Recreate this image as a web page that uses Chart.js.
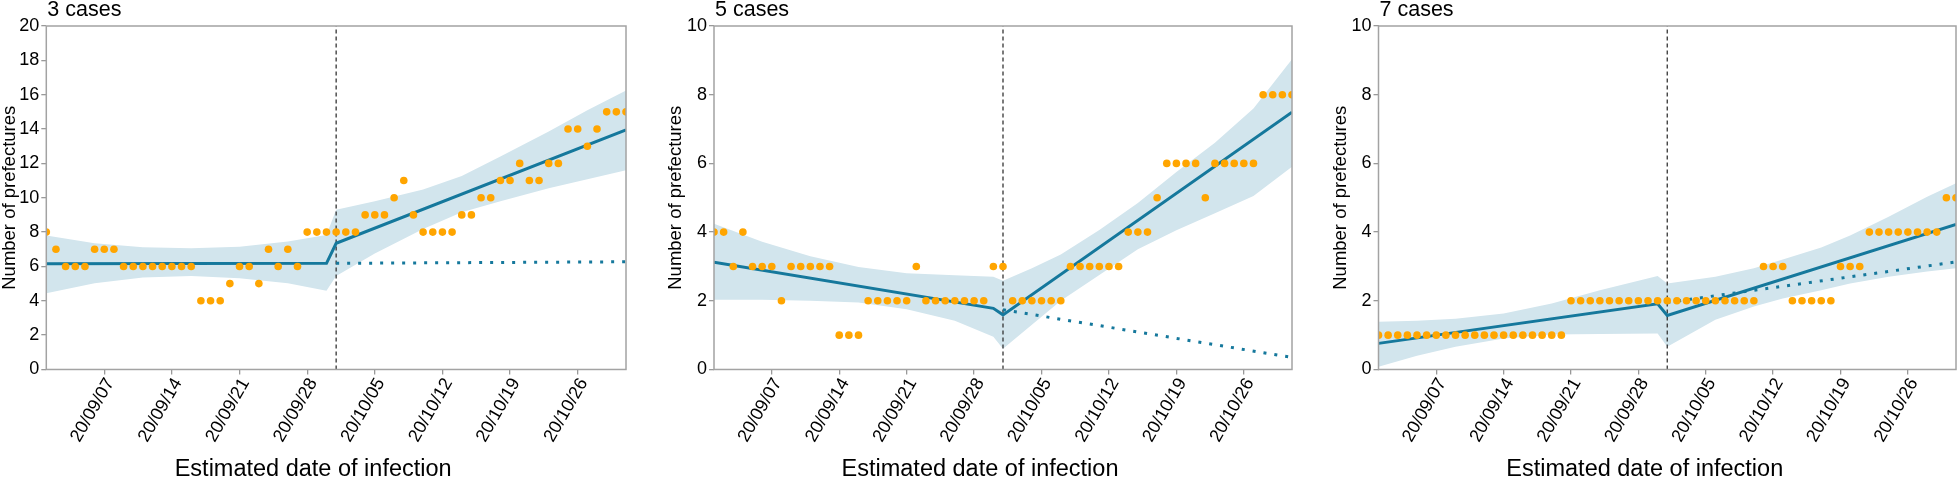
<!DOCTYPE html>
<html>
<head>
<meta charset="utf-8">
<script src="https://cdn.jsdelivr.net/npm/chart.js@4.4.1/dist/chart.umd.min.js"></script>
<style>
html, body { margin: 0; padding: 0; background: #fff; overflow: hidden; }
.panel { position: absolute; top: 0; height: 478px; }
</style>
</head>
<body>
<div class="panel" style="left:0;width:630px"><canvas id="p3"></canvas></div>
<div class="panel" style="left:666px;width:630px"><canvas id="p5"></canvas></div>
<div class="panel" style="left:1331px;width:629px"><canvas id="p7"></canvas></div>
<script>
// days counted from 2020/09/01 (day 0) to 2020/10/31 (day 60)
const tickDays = [6, 13, 20, 27, 34, 41, 48, 55];
const tickLabels = ['20/09/07', '20/09/14', '20/09/21', '20/09/28', '20/10/05', '20/10/12', '20/10/19', '20/10/26'];
const breakDay = 30;

// observed number of prefectures per day
const obs3 = [8,7,6,6,6,7,7,7,6,6,6,6,6,6,6,6,4,4,4,5,6,6,5,7,6,7,6,8,8,8,8,8,8,9,9,9,10,11,9,8,8,8,8,9,9,10,10,11,11,12,11,11,12,12,14,14,13,14,15,15,15];
const obs5 = [4,4,3,4,3,3,3,2,3,3,3,3,3,1,1,1,2,2,2,2,2,3,2,2,2,2,2,2,2,3,3,2,2,2,2,2,2,3,3,3,3,3,3,4,4,4,5,6,6,6,6,5,6,6,6,6,6,8,8,8,8];
const obs7 = [1,1,1,1,1,1,1,1,1,1,1,1,1,1,1,1,1,1,1,1,2,2,2,2,2,2,2,2,2,2,2,2,2,2,2,2,2,2,2,2,3,3,3,2,2,2,2,2,3,3,3,4,4,4,4,4,4,4,4,5,5];

// fitted segmented trend (before / after break) and counterfactual
const fitDays = [0, 29, 30, 60];
const fit3 = [6.15, 6.18, 7.35, 13.95];
const fit5 = [3.12, 1.78, 1.59, 7.49];
const fit7 = [0.76, 1.91, 1.57, 4.22];
const cfDays = [30, 60];
const cf3 = [6.18, 6.27];
const cf5 = [1.74, 0.35];
const cf7 = [1.95, 3.13];

// confidence band
const bandDays3 = [0, 5, 10, 15, 20, 25, 29, 30, 34, 39, 43, 47, 52, 56, 60];
const upper3 = [7.8, 7.35, 7.12, 7.06, 7.15, 7.45, 7.83, 9.3, 9.8, 10.48, 11.26, 12.4, 13.85, 15.1, 16.25];
const lower3 = [4.44, 5.02, 5.35, 5.45, 5.31, 5.02, 4.59, 5.45, 6.75, 8.18, 9.16, 9.8, 10.55, 11.07, 11.6];
const bandDays5 = [0, 5, 10, 15, 20, 25, 29, 30, 33, 36, 40, 44, 48, 52, 56, 60];
const upper5 = [4.24, 3.72, 3.3, 2.98, 2.8, 2.74, 2.7, 2.58, 2.95, 3.35, 4.06, 4.85, 5.75, 6.6, 7.6, 9.03];
const lower5 = [2.03, 2.03, 2.0, 1.95, 1.75, 1.42, 0.95, 0.6, 1.3, 2.0, 2.75, 3.5, 4.05, 4.55, 5.05, 5.9];
const bandDays7 = [0, 4, 8, 13, 18, 23, 29, 30, 35, 39, 42, 46, 49, 53, 57, 60];
const upper7 = [1.39, 1.42, 1.48, 1.63, 1.92, 2.31, 2.72, 2.5, 2.7, 2.95, 3.2, 3.55, 3.9, 4.45, 5.03, 5.42];
const lower7 = [0.08, 0.4, 0.66, 0.9, 1.02, 1.03, 1.05, 0.66, 1.45, 1.83, 2.07, 2.31, 2.5, 2.7, 2.85, 2.95];

const FONT = '"Liberation Sans", Arial, sans-serif';
Chart.defaults.font.family = FONT;
Chart.defaults.color = '#000';

const pts = (xs, ys) => ys.map((y, i) => ({ x: xs[i], y: y }));

// heading at top-left of plot + frame round the plot
const panelDeco = {
  id: 'panelDeco',
  afterDatasetsDraw(chart, args, opts) {
    const { ctx, chartArea: a } = chart;
    ctx.save();
    ctx.strokeStyle = '#a3a3a3';
    ctx.lineWidth = 1.5;
    ctx.strokeRect(a.left, a.top, a.right - a.left, a.bottom - a.top);
    ctx.fillStyle = '#000';
    ctx.font = '21.5px ' + FONT;
    ctx.textBaseline = 'alphabetic';
    ctx.textAlign = 'left';
    ctx.fillText(opts.heading, a.left + 1, 16);
    ctx.restore();
  }
};

function makePanel(id, heading, yMax, obs, fit, cf, bandDays, upper, lower, yW, padRight) {
  const days = obs.map((v, i) => i);
  new Chart(document.getElementById(id), {
    type: 'line',
    data: {
      datasets: [
        { data: pts(bandDays, upper), fill: '+1', backgroundColor: '#d2e5ed', borderWidth: 0, pointRadius: 0, order: 6 },
        { data: pts(bandDays, lower), fill: false, borderWidth: 0, pointRadius: 0, order: 5 },
        { data: [{ x: breakDay, y: 0 }, { x: breakDay, y: yMax }], borderColor: '#333', borderWidth: 1.3, borderDash: [4, 3], pointRadius: 0, order: 4 },
        { data: pts(cfDays, cf), borderColor: '#15789c', borderWidth: 3, borderDash: [3, 8], borderCapStyle: 'butt', pointRadius: 0, order: 3 },
        { data: pts(fitDays, fit), borderColor: '#15789c', borderWidth: 3, pointRadius: 0, order: 2 },
        { data: pts(days, obs), showLine: false, pointRadius: 3.8, pointBorderWidth: 0, pointBackgroundColor: '#ffa500', clip: 0, order: 1 }
      ]
    },
    options: {
      responsive: true,
      maintainAspectRatio: false,
      animation: false,
      events: [],
      layout: { padding: { top: 26, left: 0, right: padRight, bottom: 0 } },
      plugins: {
        legend: { display: false },
        tooltip: { enabled: false },
        title: {
          display: true, position: 'bottom', text: 'Estimated date of infection',
          font: { size: 23.5, weight: 'normal', lineHeight: 0.75 }, padding: 0, color: '#000'
        },
        panelDeco: { heading: heading }
      },
      scales: {
        x: {
          type: 'linear', min: 0, max: 60,
          afterBuildTicks: s => { s.ticks = tickDays.map(v => ({ value: v })); },
          afterFit: s => { s.height = 90.9; },
          ticks: {
            callback: (v, i) => tickLabels[i],
            autoSkip: false, minRotation: 60, maxRotation: 60,
            font: { size: 18 }, padding: 0, labelOffset: 6, color: '#000'
          },
          grid: { drawOnChartArea: false, drawTicks: true, tickLength: 5, color: '#999', lineWidth: 1.3 },
          border: { display: false }
        },
        y: {
          min: 0, max: yMax,
          afterFit: s => { s.width = yW; },
          ticks: { stepSize: 2, font: { size: 18 }, padding: 2, color: '#000' },
          grid: { drawOnChartArea: false, drawTicks: true, tickLength: 5, color: '#999', lineWidth: 1.3 },
          border: { display: false },
          title: { display: true, text: 'Number of prefectures', font: { size: 18.5, lineHeight: 1.02 }, padding: 0, color: '#000' }
        }
      }
    },
    plugins: [panelDeco]
  });
}

makePanel('p3', '3 cases', 20, obs3, fit3, cf3, bandDays3, upper3, lower3, 46.3, 3.7);
makePanel('p5', '5 cases', 10, obs5, fit5, cf5, bandDays5, upper5, lower5, 48, 2);
makePanel('p7', '7 cases', 10, obs7, fit7, cf7, bandDays7, upper7, lower7, 47.5, 1.5);
</script>
</body>
</html>
